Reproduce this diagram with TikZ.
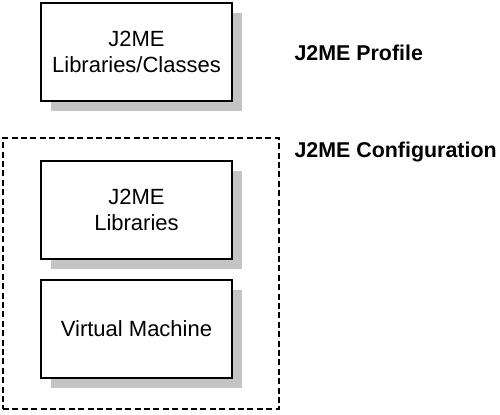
\documentclass[tikz,border=0pt]{standalone}
\usepackage{fontspec}
\setmainfont{Liberation Sans}
\usetikzlibrary{shadows,positioning}
\definecolor{shade}{HTML}{C4C4C4}

\begin{document}
\begin{tikzpicture}[x=0.5pt, y=-0.5pt,
  layerbox/.style={rectangle, draw=black, line width=1pt, fill=white, minimum width=95.5pt, minimum height=49pt, align=center, font=\fontsize{11}{13}\selectfont, drop shadow={shadow xshift=5pt, shadow yshift=-5pt, fill=shade, opacity=1}},
  groupbox/.style={rectangle, draw=black, line width=1.1pt, dash pattern=on 3pt off 1.7pt, minimum width=138pt, minimum height=135.5pt},
  tag/.style={anchor=west, font=\bfseries\fontsize{10.7}{13}\selectfont}
]
\useasboundingbox (0,0) rectangle (500,414);
\node[groupbox] (config) at (141,273.5) {};
\node[layerbox] (profile) at (136.5,52) {J2ME\\Libraries/Classes};
\node[layerbox] (libs) at (136.5,210) {J2ME\\Libraries};
\node[layerbox] (vm) at (136.5,328.5) {Virtual Machine};

\node[tag] (profiletag) at (287.5,53) {J2ME Profile};
\node[tag] (configtag) at (287.5,152) {J2ME Configuration};
\end{tikzpicture}
\end{document}
